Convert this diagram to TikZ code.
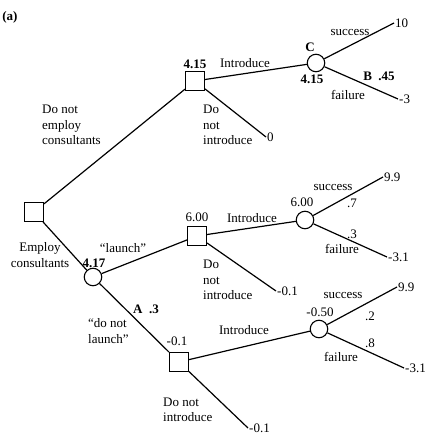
\documentclass[tikz,border=0pt]{standalone}
\usepackage{fontspec}
\setmainfont{Liberation Serif}
\usepackage{tikz}
\tikzset{
dec/.style={draw,rectangle,minimum size=19pt,inner sep=0pt,line width=1.1pt},
chance/.style={draw,circle,minimum size=17.5pt,inner sep=0pt,line width=1.1pt},
lab/.style={inner sep=0pt,font=\fontsize{13}{15.5}\selectfont},
val/.style={lab,anchor=west,inner sep=1pt},
branch/.style={line width=1.2pt}
}

\begin{document}
\begin{tikzpicture}[x=1pt,y=-1pt]
\useasboundingbox (0,0) rectangle (440,439);

\node[lab,font=\fontsize{13}{15.5}\selectfont\bfseries] (tag) at (10,17) {(a)};

\node[dec] (D0) at (34,212) {};
\node[dec] (D1) at (195,81) {};
\node[chance] (C1) at (316,63) {};
\node[chance] (E1) at (93,277) {};
\node[dec] (D2) at (197,236) {};
\node[chance] (C2) at (305,220) {};
\node[dec] (D3) at (179,362) {};
\node[chance] (C3) at (319,329) {};

\node[val] (v10) at (394,23) {10};
\node[val] (vm3) at (398,99) {-3};
\node[val] (v0) at (266,137) {0};
\node[val] (v99a) at (383,177) {9.9};
\node[val] (vm31a) at (387,257) {-3.1};
\node[val] (vm01a) at (276,291) {-0.1};
\node[val] (v99b) at (397,287) {9.9};
\node[val] (vm31b) at (404,368) {-3.1};
\node[val] (vm01b) at (248,428) {-0.1};

\draw[branch] (D0) -- (D1);
\draw[branch] (D0) -- (E1);
\draw[branch] (D1) -- (C1);
\draw[branch] (D1) -- (v0.west);
\draw[branch] (C1) -- (v10.west);
\draw[branch] (C1) -- (vm3.west);
\draw[branch] (E1) -- (D2);
\draw[branch] (E1) -- (D3);
\draw[branch] (D2) -- (C2);
\draw[branch] (D2) -- (vm01a.west);
\draw[branch] (C2) -- (v99a.west);
\draw[branch] (C2) -- (vm31a.west);
\draw[branch] (D3) -- (C3);
\draw[branch] (D3) -- (vm01b.west);
\draw[branch] (C3) -- (v99b.west);
\draw[branch] (C3) -- (vm31b.west);

\node[lab,font=\fontsize{13}{15.5}\selectfont\bfseries] (n1) at (195,64) {4.15};
\node[lab,align=left,anchor=west] (l1) at (42,125) {Do not\\employ\\consultants};
\node[lab,align=left,anchor=west] (l2) at (203,125) {Do\\not\\introduce};
\node[lab] (l3) at (245,63) {Introduce};
\node[lab,font=\fontsize{13}{15.5}\selectfont\bfseries] (n2) at (310,47) {C};
\node[lab,font=\fontsize{13}{15.5}\selectfont\bfseries] (n3) at (312,79) {4.15};
\node[lab] (l4) at (350,33) {success};
\node[lab,font=\fontsize{13}{15.5}\selectfont\bfseries] (n4) at (379,76) {B\enspace.45};
\node[lab] (l5) at (348,95) {failure};

\node[lab,align=center] (l6) at (40,255) {Employ\\consultants};
\node[lab,font=\fontsize{13}{15.5}\selectfont\bfseries] (n5) at (94,263) {4.17};
\node[lab] (l7) at (123,248) {``launch''};
\node[lab] (n6) at (197,217) {6.00};
\node[lab] (l8) at (252,218) {Introduce};
\node[lab] (n7) at (302,202) {6.00};
\node[lab] (l9) at (333,187) {success};
\node[lab] (p1) at (352,203) {.7};
\node[lab] (p2) at (352,234) {.3};
\node[lab] (l10) at (342,249) {failure};
\node[lab,align=left,anchor=west] (l11) at (203,280) {Do\\not\\introduce};

\node[lab,font=\fontsize{13}{15.5}\selectfont\bfseries] (n8) at (146,309) {A\enspace.3};
\node[lab,align=left,anchor=west] (l12) at (88,331) {``do not\\launch''};
\node[lab] (n9) at (177,341) {-0.1};
\node[lab] (l13) at (244,330) {Introduce};
\node[lab] (n10) at (320,312) {-0.50};
\node[lab] (l14) at (343,295) {success};
\node[lab] (p3) at (370,316) {.2};
\node[lab] (p4) at (370,343) {.8};
\node[lab] (l15) at (341,357) {failure};
\node[lab,align=left,anchor=west] (l16) at (163,410) {Do not\\introduce};

\end{tikzpicture}
\end{document}
